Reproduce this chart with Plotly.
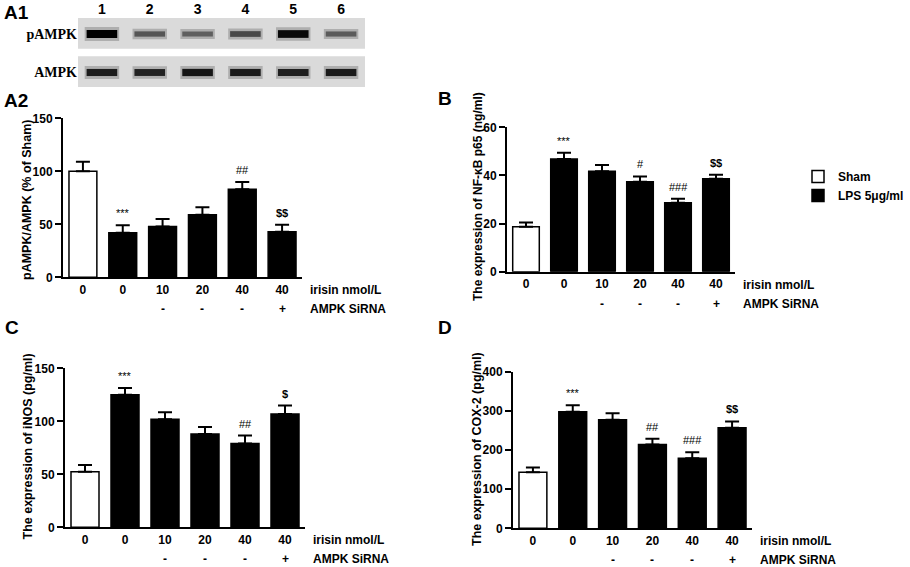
import plotly.graph_objects as go

W, H = 910, 567
FONT = "Liberation Sans, Arial, sans-serif"
SERIF = "Liberation Serif, Times New Roman, serif"

# x-axis groups shared by all four bar panels
irisin_labels = ["0", "0", "10", "20", "40", "40"]
sirna_labels = ["", "", "-", "-", "-", "+"]

# A2: pAMPK/AMPK (% of Sham)
a2_mean = [100, 42, 48, 59, 83, 43]
a2_err = [9, 7, 7, 7, 7, 6.5]
a2_marks = ["", "***", "", "", "##", "$$"]

# B: NF-kB p65 (ng/ml)
b_mean = [18.7, 46.8, 41.7, 37.4, 28.7, 38.6]
b_err = [1.7, 2.6, 2.6, 2.2, 1.6, 1.7]
b_marks = ["", "***", "", "#", "###", "$$"]

# C: iNOS (pg/ml)
c_mean = [52.5, 125, 102, 88, 79, 107]
c_err = [6.3, 6.5, 6.6, 6.6, 7.5, 7.8]
c_marks = ["", "***", "", "", "##", "$"]

# D: COX-2 (pg/ml)
d_mean = [143, 298, 277, 214, 179, 257]
d_err = [12, 16, 17, 14.5, 15, 16]
d_marks = ["", "***", "", "##", "###", "$$"]

# A1: western blot band strength (0..1)
lanes = [1, 2, 3, 4, 5, 6]
pampk_band = [1.0, 0.55, 0.5, 0.62, 0.95, 0.52]
ampk_band = [0.85, 0.82, 0.88, 0.86, 0.84, 0.86]


def fx(px):
    return px / W


def fy(py):
    return 1 - py / H


fig = go.Figure()
annotations = []
shapes = []


def add_panel(n, mean, err, marks, yrange, dtick, xpx, ypx, ytitle, title_pos, title_size, legend):
    xa = "x" if n == 1 else "x%d" % n
    ya = "y" if n == 1 else "y%d" % n
    cats = list(range(len(mean)))
    fig.add_trace(go.Bar(
        x=cats[:1], y=mean[:1], xaxis=xa, yaxis=ya, width=0.7,
        name="Sham", legendgroup="sham", showlegend=legend,
        marker=dict(color="white", line=dict(color="black", width=1.5)),
        error_y=dict(type="data", symmetric=False, array=err[:1], arrayminus=[0],
                     color="black", thickness=2, width=7),
    ))
    fig.add_trace(go.Bar(
        x=cats[1:], y=mean[1:], xaxis=xa, yaxis=ya, width=0.7,
        name="LPS 5μg/ml", legendgroup="lps", showlegend=legend,
        marker=dict(color="black", line=dict(color="black", width=1.5)),
        error_y=dict(type="data", symmetric=False, array=err[1:], arrayminus=[0] * 5,
                     color="black", thickness=2, width=7),
    ))
    key = "" if n == 1 else str(n)
    fig.update_layout(**{
        "xaxis" + key: dict(
            domain=[fx(xpx[0]), fx(xpx[1])], range=[-0.5, 5.5], anchor=ya,
            tickvals=cats, ticktext=irisin_labels, ticks="", automargin=False,
            showline=True, linecolor="black", linewidth=2,
            showgrid=False, zeroline=False, fixedrange=True,
            tickfont=dict(family=FONT, size=12, color="black", weight="bold"),
        ),
        "yaxis" + key: dict(
            domain=[fy(ypx[0]), fy(ypx[1])], range=yrange, dtick=dtick, anchor=xa,
            ticks="outside", ticklen=6, tickwidth=2, tickcolor="black", automargin=False,
            showline=True, linecolor="black", linewidth=2,
            showgrid=False, zeroline=False, fixedrange=True,
            tickfont=dict(family=FONT, size=12, color="black", weight="bold"),
        ),
    })
    # significance marks above the error bars ($ written as an entity so it is not read as LaTeX)
    for i, m in enumerate(marks):
        if m:
            annotations.append(dict(
                x=i, y=mean[i] + err[i], xref=xa, yref=ya, text=m.replace("$", "&#36;"),
                showarrow=False, yanchor="bottom", yshift=4,
                font=dict(family=FONT, size=11, color="black",
                          weight="bold" if "$" in m else "normal"),
            ))
    # irisin / siRNA rows below the axis
    annotations.append(dict(
        x=5.5, y=0, xref=xa, yref=ya + " domain", text="irisin nmol/L", showarrow=False,
        xanchor="left", yanchor="middle", xshift=6, yshift=-13,
        font=dict(family=FONT, size=12, color="black", weight="bold"),
    ))
    annotations.append(dict(
        x=5.5, y=0, xref=xa, yref=ya + " domain", text="AMPK SiRNA", showarrow=False,
        xanchor="left", yanchor="middle", xshift=6, yshift=-32,
        font=dict(family=FONT, size=12, color="black", weight="bold"),
    ))
    for i, s in enumerate(sirna_labels):
        if s:
            annotations.append(dict(
                x=i, y=0, xref=xa, yref=ya + " domain", text=s, showarrow=False,
                yanchor="middle", yshift=-32,
                font=dict(family=FONT, size=12, color="black", weight="bold"),
            ))
    shapes.append(dict(
        type="line", xref=xa, yref=ya, ysizemode="pixel", yanchor=0,
        x0=1.75, x1=5.5, y0=-22, y1=-22, line=dict(color="black", width=1.5),
    ))
    annotations.append(dict(
        x=fx(title_pos[0]), y=fy(title_pos[1]), xref="paper", yref="paper",
        text=ytitle, textangle=-90, showarrow=False, xanchor="center", yanchor="middle",
        font=dict(family=FONT, size=title_size, color="black", weight="bold"),
    ))


add_panel(1, a2_mean, a2_err, a2_marks, [0, 150], 50, (63, 302), (277.3, 118.3),
          "pAMPK/AMPK (% of Sham)", (27, 200), 12.5, True)
add_panel(2, b_mean, b_err, b_marks, [0, 60], 20, (507, 735), (271.7, 127.3),
          "The expression of NF-κB p65 (ng/ml)", (478, 197), 12, False)
add_panel(3, c_mean, c_err, c_marks, [0, 150], 50, (65, 305), (527.3, 368.3),
          "The expression of iNOS (pg/ml)", (27.5, 447), 12.5, False)
add_panel(4, d_mean, d_err, d_marks, [0, 400], 100, (513, 752), (528.3, 371.7),
          "The expression of COX-2 (pg/ml)", (477, 449), 12.5, False)

# A1 blot: grey membranes plus one band per lane
for row in (1, 0):
    shapes.append(dict(
        type="rect", xref="x5", yref="y5", x0=0.5, x1=6.5, y0=row - 0.38, y1=row + 0.42,
        fillcolor="#dadada", line=dict(width=0), layer="below",
    ))

for row, bands in ((1, pampk_band), (0, ampk_band)):
    for lane, v in zip(lanes, bands):
        g = int(190 * (1 - v))
        fig.add_trace(go.Scatter(
            x=[lane - 0.36, lane + 0.36], y=[row, row], xaxis="x5", yaxis="y5",
            mode="lines", showlegend=False, hoverinfo="skip",
            line=dict(color="rgba(120,120,120,0.45)", width=6 + 8 * v),
        ))
        fig.add_trace(go.Scatter(
            x=[lane - 0.32, lane + 0.32], y=[row, row], xaxis="x5", yaxis="y5",
            mode="lines", showlegend=False, hoverinfo="skip",
            line=dict(color="rgb(%d,%d,%d)" % (g, g, g), width=2 + 6 * v),
        ))

fig.update_layout(
    xaxis5=dict(
        domain=[fx(78), fx(365)], range=[0.5, 6.5], anchor="y5", side="top",
        tickvals=lanes, ticktext=[str(l) for l in lanes], ticks="", automargin=False,
        showline=False, showgrid=False, zeroline=False, fixedrange=True,
        tickfont=dict(family=FONT, size=14, color="black", weight="bold"),
    ),
    yaxis5=dict(
        domain=[fy(87), fy(18)], range=[-0.377, 1.416], anchor="x5",
        tickvals=[1, 0], ticktext=["pAMPK", "AMPK"], ticks="", automargin=False,
        showline=False, showgrid=False, zeroline=False, fixedrange=True,
        tickfont=dict(family=SERIF, size=14, color="black", weight="bold"),
    ),
)

# panel letters
for label, px, py in (("A1", 2, 12), ("A2", 2, 101), ("B", 436, 98), ("C", 3, 327), ("D", 436, 327)):
    annotations.append(dict(
        x=fx(px), y=fy(py), xref="paper", yref="paper", text=label, showarrow=False,
        xanchor="left", yanchor="middle",
        font=dict(family=FONT, size=19, color="black", weight="bold"),
    ))

fig.update_layout(
    width=W, height=H,
    margin=dict(l=0, r=0, t=0, b=0),
    paper_bgcolor="white", plot_bgcolor="white",
    barmode="overlay",
    showlegend=True,
    legend=dict(
        x=fx(798), y=fy(162), xanchor="left", yanchor="top",
        font=dict(family=FONT, size=12, color="black", weight="bold"),
        bgcolor="rgba(0,0,0,0)", tracegroupgap=0,
    ),
    annotations=annotations,
    shapes=shapes,
)

# the page body has an 8px default margin; drop it so the figure fills the window
fig.write_html("out.html", config={"displayModeBar": False},
               post_script="document.body.style.margin='0';")
